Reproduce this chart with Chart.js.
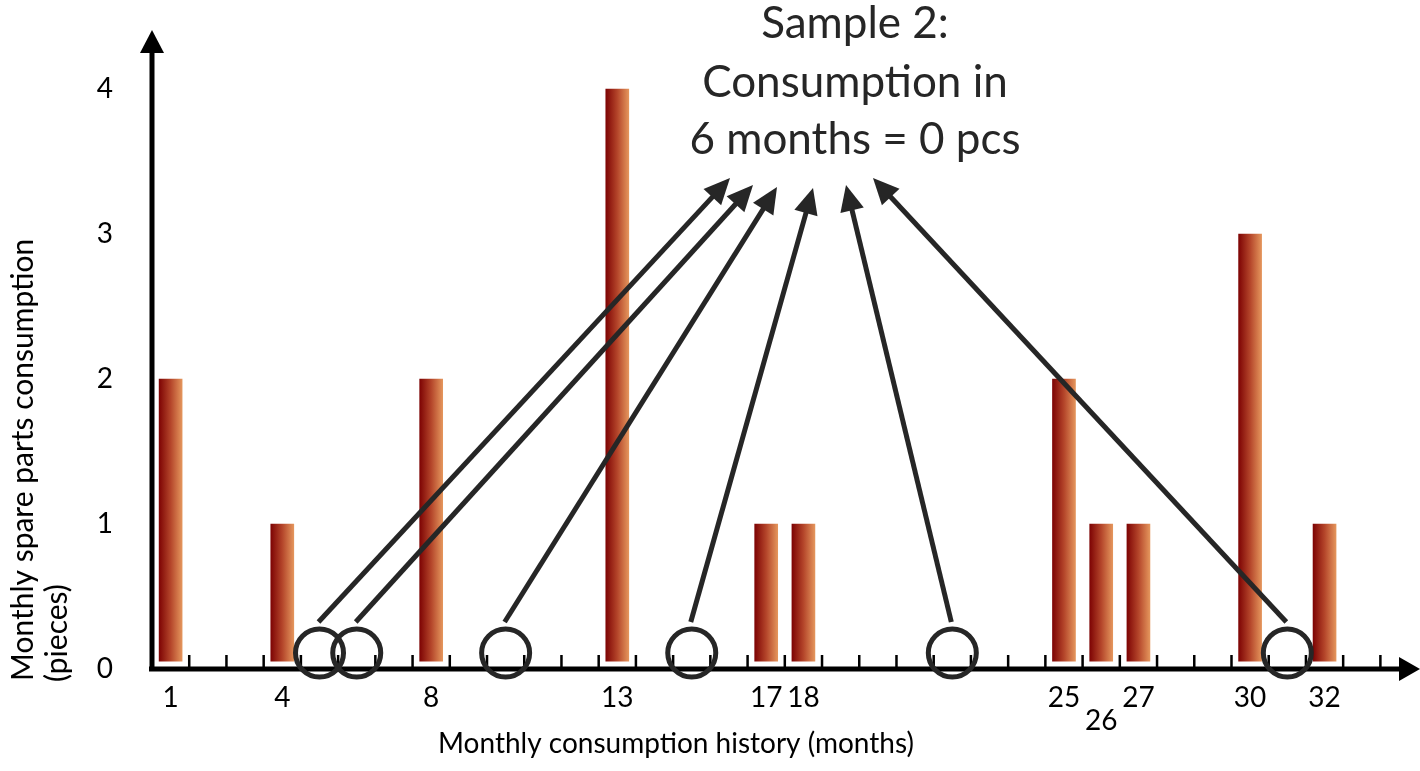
<!DOCTYPE html>
<html>
<head>
<meta charset="utf-8">
<script src="https://cdn.jsdelivr.net/npm/chart.js@4"></script>
<style>
  html, body { margin: 0; padding: 0; background: #fff; }
  #wrap { width: 1420px; height: 771px; position: relative; }
</style>
</head>
<body>
<div id="wrap"><canvas id="chart"></canvas></div>
<script>
// months that had consumption, and how many pieces
const months = [1, 4, 8, 13, 17, 18, 25, 26, 27, 30, 32];
const consumption = [2, 1, 2, 4, 1, 1, 2, 1, 1, 3, 1];
// sample 2: the six months picked that had no consumption
const sampleMonths = [5, 6, 10, 15, 22, 31];
const xTickLabels = [1, 4, 8, 13, 17, 18, 25, 26, 27, 30, 32];
const loweredLabels = [26];
const yTicks = [0, 1, 2, 3, 4];
const lastMonth = 33;

const titleLines = ['Sample 2:', 'Consumption in', '6 months = 0 pcs'];
const yTitleLines = ['Monthly spare parts consumption', '(pieces)'];
const xTitle = 'Monthly consumption history (months)';

const FONT = 'Lato, "Open Sans", sans-serif';
const INK = '#262626';

function barGradient(ctx) {
  const chart = ctx.chart;
  const xs = chart.scales.x;
  if (!xs || !ctx.raw) return '#b04a2a';
  const cx = xs.getPixelForValue(ctx.raw.x);
  if (!isFinite(cx)) return '#b04a2a';
  const g = chart.ctx.createLinearGradient(cx - 11.5, 0, cx + 11.5, 0);
  g.addColorStop(0, '#7e0404');
  g.addColorStop(0.5, '#b4452a');
  g.addColorStop(1, '#e4955c');
  return g;
}

function arrow(c, x1, y1, x2, y2) {
  const ang = Math.atan2(y2 - y1, x2 - x1);
  const len = 26, hw = 12;
  const bx = x2 - Math.cos(ang) * len, by = y2 - Math.sin(ang) * len;
  c.beginPath();
  c.moveTo(x1, y1);
  c.lineTo(bx + Math.cos(ang) * 2, by + Math.sin(ang) * 2);
  c.stroke();
  c.beginPath();
  c.moveTo(x2, y2);
  c.lineTo(bx - Math.sin(ang) * hw, by + Math.cos(ang) * hw);
  c.lineTo(bx + Math.sin(ang) * hw, by - Math.cos(ang) * hw);
  c.closePath();
  c.fill();
}

const decor = {
  id: 'decor',
  afterDatasetsDraw(chart) {
    const c = chart.ctx;
    const xs = chart.scales.x, ys = chart.scales.y;
    const area = chart.chartArea;
    const y0 = ys.getPixelForValue(0);
    c.save();

    // white gap between bars and axis
    c.fillStyle = '#fff';
    c.fillRect(area.left + 3, y0 - 7.5, area.right - area.left, 7.5);

    // axes with arrow heads
    c.strokeStyle = '#000';
    c.fillStyle = '#000';
    c.lineWidth = 5;
    c.beginPath();
    c.moveTo(area.left - 3, y0);
    c.lineTo(area.right + 1, y0);
    c.moveTo(area.left, y0 + 2.5);
    c.lineTo(area.left, area.top + 22);
    c.stroke();
    c.beginPath();
    c.moveTo(area.right, y0 - 12);
    c.lineTo(area.right + 21, y0);
    c.lineTo(area.right, y0 + 12);
    c.closePath();
    c.fill();
    c.beginPath();
    c.moveTo(area.left - 12, area.top + 22);
    c.lineTo(area.left, area.top - 1);
    c.lineTo(area.left + 12, area.top + 22);
    c.closePath();
    c.fill();

    // month boundary ticks
    c.lineWidth = 2.5;
    c.beginPath();
    for (let m = 1; m <= lastMonth; m++) {
      const px = xs.getPixelForValue(m + 0.5);
      c.moveTo(px, y0 - 14);
      c.lineTo(px, y0);
    }
    c.stroke();

    // circles on sampled months and arrows to the note
    const noteX = 855;
    const tips = [[-125, 178], [-102, 185], [-78, 187], [-42, 188], [-9, 185], [18, 178]];
    c.strokeStyle = INK;
    c.fillStyle = INK;
    sampleMonths.forEach((m, i) => {
      const cx = xs.getPixelForValue(m);
      const cy = y0 - 16;
      c.lineWidth = 5;
      c.beginPath();
      c.arc(cx, cy, 24, 0, Math.PI * 2);
      c.stroke();
      arrow(c, cx - 1, cy - 31, noteX + tips[i][0], tips[i][1]);
    });

    // note text
    c.fillStyle = INK;
    c.font = '44px ' + FONT;
    c.textAlign = 'center';
    c.textBaseline = 'alphabetic';
    [38, 97, 154].forEach((by, i) => c.fillText(titleLines[i], noteX, by));

    // axis titles
    c.fillStyle = '#000';
    c.font = '28px ' + FONT;
    c.fillText(xTitle, 676, 753);
    c.font = '30px ' + FONT;
    c.textAlign = 'left';
    [[33, 681], [67, 682]].forEach((p, i) => {
      c.save();
      c.translate(p[0], p[1]);
      c.rotate(-Math.PI / 2);
      c.fillText(yTitleLines[i], 0, 0);
      c.restore();
    });
    c.restore();
  }
};

new Chart(document.getElementById('chart'), {
  type: 'bar',
  data: {
    datasets: [{
      label: 'Consumption',
      data: months.map((m, i) => ({ x: m, y: consumption[i] })),
      backgroundColor: barGradient,
      barThickness: 23,
      borderWidth: 0
    }]
  },
  options: {
    responsive: true,
    maintainAspectRatio: false,
    animation: false,
    layout: { padding: { left: 90, right: 21, top: 31, bottom: 36 } },
    plugins: {
      legend: { display: false },
      title: { display: false },
      tooltip: { enabled: false }
    },
    scales: {
      x: {
        type: 'linear',
        offset: false,
        min: 0.5,
        max: lastMonth + 1,
        grid: { display: false, drawTicks: false },
        border: { display: false },
        afterBuildTicks: s => { s.ticks = xTickLabels.map(v => ({ value: v })); },
        afterFit: s => { s.height = 66; s.paddingLeft = 0; s.paddingRight = 0; },
        ticks: {
          autoSkip: false,
          maxRotation: 0,
          padding: 17,
          color: '#000',
          font: { family: FONT, size: 28, lineHeight: 0.83 },
          callback: v => loweredLabels.includes(v) ? ['', String(v)] : String(v)
        }
      },
      y: {
        min: 0,
        max: 4.4,
        grid: { display: false, drawTicks: false },
        border: { display: false },
        afterBuildTicks: s => { s.ticks = yTicks.map(v => ({ value: v })); },
        afterFit: s => { s.width = 62; s.paddingTop = 0; s.paddingBottom = 0; },
        ticks: {
          padding: 39,
          color: '#000',
          font: { family: FONT, size: 28 }
        }
      }
    }
  },
  plugins: [decor]
});
</script>
</body>
</html>
